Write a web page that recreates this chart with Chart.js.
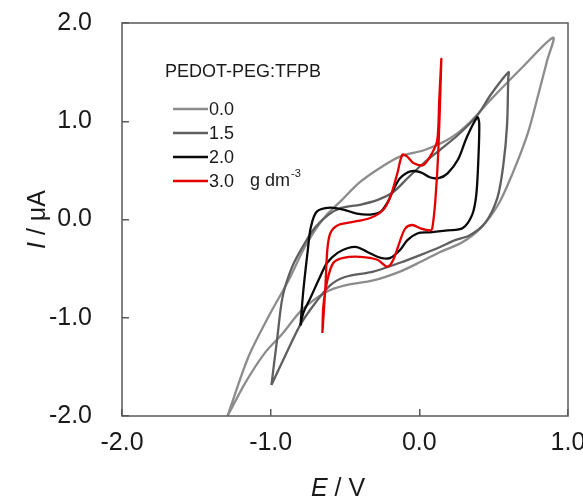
<!DOCTYPE html>
<html>
<head>
<meta charset="utf-8">
<script src="https://cdn.jsdelivr.net/npm/chart.js@4/dist/chart.umd.min.js"></script>
<style>
  body { margin: 0; background: #fff; }
  #wrap { width: 583px; height: 500px; }
</style>
</head>
<body>
<div id="wrap"><canvas id="cvChart"></canvas></div>
<script>
// concentrations (g dm-3) used as series labels
const concLabels = ['0.0', '1.5', '2.0', '3.0'];
const lineColors = ['rgb(140,140,140)', 'rgb(95,95,95)', 'rgb(10,10,10)', 'rgb(228,0,0)'];

// 0.0 g dm-3 : potential E / V and current I / uA
const e00 = [-1.29, -1.15, -1.015, -0.88, -0.77, -0.65, -0.52, -0.40, -0.26, -0.13, 0.04, 0.21, 0.34, 0.48, 0.70, 0.90,
             0.86, 0.80, 0.73, 0.63, 0.53, 0.41, 0.28, 0.14, 0.01, -0.13, -0.31, -0.50, -0.63, -0.79, -0.92, -1.04, -1.17, -1.29];
const i00 = [-2.0, -1.40, -0.99, -0.62, -0.28, 0.00, 0.20, 0.38, 0.53, 0.64, 0.71, 0.83, 0.99, 1.22, 1.56, 1.85,
             1.62, 1.27, 0.88, 0.48, 0.15, -0.09, -0.24, -0.33, -0.43, -0.53, -0.62, -0.67, -0.74, -0.92, -1.16, -1.36, -1.66, -2.0];

// 1.5 g dm-3
const e15 = [-0.995, -0.955, -0.92, -0.855, -0.77, -0.70, -0.61, -0.52, -0.40, -0.28, -0.175, -0.08, 0.03, 0.14, 0.26, 0.39, 0.48, 0.60,
             0.598, 0.59, 0.565, 0.525, 0.445, 0.34, 0.24, 0.14, 0.01, -0.13, -0.31, -0.50, -0.60, -0.70, -0.80, -0.90, -0.995];
const i15 = [-1.685, -1.20, -0.79, -0.48, -0.24, -0.08, 0.05, 0.12, 0.15, 0.20, 0.28, 0.42, 0.575, 0.71, 0.86, 1.06, 1.27, 1.50,
             1.44, 0.96, 0.555, 0.22, -0.03, -0.16, -0.21, -0.28, -0.36, -0.44, -0.53, -0.585, -0.67, -0.85, -1.07, -1.38, -1.685];

// 2.0 g dm-3
const e20 = [-0.80, -0.78, -0.75, -0.73, -0.69, -0.60, -0.51, -0.42, -0.33, -0.26, -0.215, -0.175, -0.13, -0.06, 0.01, 0.07, 0.13, 0.19, 0.26, 0.32, 0.39,
             0.403, 0.397, 0.383, 0.356, 0.29, 0.19, 0.07, -0.01, -0.08, -0.13, -0.195, -0.26, -0.35, -0.42, -0.48, -0.55, -0.62, -0.67, -0.73, -0.78, -0.80];
const i20 = [-1.08, -0.72, -0.31, -0.08, 0.08, 0.12, 0.10, 0.06, 0.05, 0.08, 0.17, 0.30, 0.42, 0.49, 0.48, 0.43, 0.42, 0.47, 0.61, 0.84, 1.04,
             0.98, 0.61, 0.25, 0.05, -0.09, -0.11, -0.13, -0.14, -0.21, -0.31, -0.39, -0.39, -0.33, -0.28, -0.29, -0.34, -0.44, -0.59, -0.79, -0.95, -1.08];

// 3.0 g dm-3
const e30 = [-0.652, -0.632, -0.619, -0.599, -0.551, -0.464, -0.33, -0.242, -0.195, -0.148, -0.114, -0.081, -0.04, 0.027, 0.087, 0.121, 0.134, 0.148,
             0.128, 0.108, 0.087, 0.074, 0.007, -0.047, -0.094, -0.128, -0.175, -0.215, -0.282, -0.397, -0.511, -0.578, -0.619, -0.646, -0.652];
const i30 = [-1.155, -0.69, -0.31, -0.14, -0.06, -0.03, 0.015, 0.10, 0.23, 0.47, 0.66, 0.64, 0.575, 0.555, 0.68, 0.81, 1.22, 1.63,
             0.71, 0.20, -0.09, -0.11, -0.09, -0.056, -0.09, -0.21, -0.41, -0.48, -0.41, -0.38, -0.39, -0.44, -0.62, -0.89, -1.155];

const xTicks = [-2, -1, 0, 1];
const yTicks = [-2, -1, 0, 1, 2];

const seriesE = [e00, e15, e20, e30];
const seriesI = [i00, i15, i20, i30];

const FONT = 'Arial, "Liberation Sans", sans-serif';

function toPoints(es, is) {
    return es.map((e, k) => ({x: e, y: is[k]}));
}

// frame, axis titles and the legend block inside the plot
const decorPlugin = {
    id: 'decor',
    afterDraw(chart) {
        const {ctx, chartArea: a} = chart;
        ctx.save();
        ctx.strokeStyle = '#5a5a5a';
        ctx.lineWidth = 1.5;
        ctx.strokeRect(a.left, a.top, a.right - a.left, a.bottom - a.top);

        // x title: italic E / V
        ctx.fillStyle = '#1a1a1a';
        ctx.textBaseline = 'middle';
        ctx.textAlign = 'left';
        const big = '25px ' + FONT;
        const bigIt = 'italic 25px ' + FONT;
        ctx.font = bigIt;
        const wE = ctx.measureText('E').width;
        ctx.font = big;
        const wRest = ctx.measureText(' / V').width;
        let x0 = (a.left + a.right) / 2 - 7 - (wE + wRest) / 2;
        ctx.font = bigIt;
        ctx.fillText('E', x0, 489);
        ctx.font = big;
        ctx.fillText(' / V', x0 + wE, 489);

        // y title: italic I / uA, rotated
        ctx.save();
        ctx.translate(38, (a.top + a.bottom) / 2);
        ctx.rotate(-Math.PI / 2);
        ctx.font = bigIt;
        const wI = ctx.measureText('I').width;
        ctx.font = big;
        const wUnit = ctx.measureText(' / \u03bcA').width;
        x0 = -(wI + wUnit) / 2;
        ctx.font = bigIt;
        ctx.fillText('I', x0, 0);
        ctx.font = big;
        ctx.fillText(' / \u03bcA', x0 + wI, 0);
        ctx.restore();

        // legend
        ctx.font = '18px ' + FONT;
        ctx.fillText('PEDOT-PEG:TFPB', 165, 72);
        chart.data.datasets.forEach((ds, k) => {
            const y = 109 + k * 24;
            ctx.strokeStyle = ds.borderColor;
            ctx.lineWidth = 2.4;
            ctx.beginPath();
            ctx.moveTo(173, y);
            ctx.lineTo(208, y);
            ctx.stroke();
            ctx.fillText(ds.label, 209, y + 1);
        });
        ctx.fillText('g dm', 250, 109 + 3 * 24);
        const wg = ctx.measureText('g dm').width;
        ctx.font = '11px ' + FONT;
        ctx.fillText('-3', 250 + wg + 1, 109 + 3 * 24 - 7);
        ctx.restore();
    }
};

const ctx = document.getElementById('cvChart').getContext('2d');
const datasets = concLabels.map((lab, k) => ({
    label: lab,
    data: toPoints(seriesE[k], seriesI[k]),
    borderColor: lineColors[k],
    borderWidth: 2.3,
    pointRadius: 0,
    showLine: true,
    fill: false,
    tension: 0.3,
    order: 3 - k,
}));

new Chart(ctx, {
    type: 'scatter',
    data: {datasets: datasets},
    options: {
        responsive: true,
        maintainAspectRatio: false,
        animation: false,
        layout: {padding: {top: 23, right: 15, left: 0, bottom: 0}},
        plugins: {
            legend: {display: false},
            tooltip: {enabled: false},
        },
        scales: {
            x: {
                type: 'linear',
                min: xTicks[0],
                max: xTicks[xTicks.length - 1],
                afterBuildTicks: (s) => { s.ticks = xTicks.map(v => ({value: v})); },
                afterFit: (s) => { s.height = 84; s.paddingLeft = 0; s.paddingRight = 0; },
                ticks: {
                    callback: (v) => v.toFixed(1),
                    font: {size: 25, family: FONT},
                    color: '#1a1a1a',
                    padding: 19,
                    autoSkip: false,
                    maxRotation: 0,
                },
                grid: {drawOnChartArea: false, tickLength: -7, color: '#5a5a5a', lineWidth: 1.5},
                border: {display: false},
            },
            y: {
                type: 'linear',
                min: yTicks[0],
                max: yTicks[yTicks.length - 1],
                afterBuildTicks: (s) => { s.ticks = yTicks.map(v => ({value: v})); },
                afterFit: (s) => { s.width = 122; s.paddingTop = 0; s.paddingBottom = 0; },
                ticks: {
                    callback: (v) => v.toFixed(1),
                    font: {size: 25, family: FONT},
                    color: '#1a1a1a',
                    padding: 37,
                },
                grid: {drawOnChartArea: false, tickLength: -7, color: '#5a5a5a', lineWidth: 1.5},
                border: {display: false},
            },
        },
    },
    plugins: [decorPlugin],
});
</script>
</body>
</html>
